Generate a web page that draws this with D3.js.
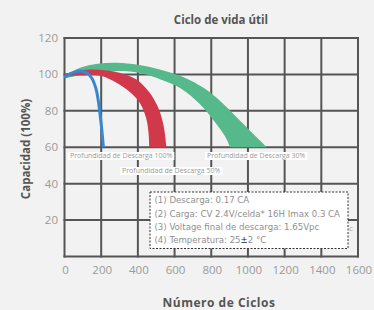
<!DOCTYPE html>
<html>
<head>
<meta charset="utf-8">
<script src="https://cdn.jsdelivr.net/npm/d3@7"></script>
<style>
  html, body { margin: 0; padding: 0; background: #f1f2f1; }
  svg { display: block; font-family: "Open Sans", sans-serif; }
</style>
</head>
<body>
<div id="chart"></div>
<script>
// ciclos / capacidad
const xTicks = [0, 200, 400, 600, 800, 1000, 1200, 1400, 1600];
const yTicks = [20, 40, 60, 80, 100, 120];

// Profundidad de Descarga 100% (linea)
const blueCycles = [0, 30, 60, 94, 125, 150, 172, 185, 195, 204, 212];
const blueCap = [98.3, 100.3, 101.4, 101.8, 100.6, 97.8, 92, 85, 77, 69, 60];

// Profundidad de Descarga 50% (banda)
const redUpCycles = [0, 60, 140, 220, 300, 390, 460, 510, 540, 556];
const redUpCap = [100.3, 101.8, 102.7, 102.3, 100.9, 97.3, 90.5, 82, 72, 60];
const redLoCycles = [0, 80, 190, 250, 340, 410, 445, 458, 462];
const redLoCap = [98.5, 99.5, 99.4, 97.2, 91.7, 84.5, 76, 68, 60];

// Profundidad de Descarga 30% (banda)
const greenUpCycles = [0, 85, 180, 285, 400, 520, 650, 760, 850, 960, 1050, 1103];
const greenUpCap = [99.3, 103.6, 105.8, 106.4, 105.3, 102.7, 98.5, 92.5, 85.3, 74.3, 65.2, 60];
const greenLoCycles = [0, 150, 280, 380, 450, 520, 630, 740, 830, 875, 903];
const greenLoCap = [97.8, 100.6, 101.8, 101.3, 99.8, 97.4, 92.6, 83.5, 72.5, 66, 60];

const notes = [
  "(1) Descarga: 0.17 CA",
  "(2) Carga: CV 2.4V/celda* 16H Imax 0.3 CA",
  "(3) Voltage final de descarga: 1.65Vpc",
  "(4) Temperatura: 25±2 °C"
];

const width = 374, height = 310;

const svg = d3.select("#chart").append("svg")
  .attr("width", width)
  .attr("height", height);

svg.append("rect").attr("width", width).attr("height", height).attr("fill", "#f1f2f1");

const x = d3.scaleLinear().domain([0, 1600]).range([64.5, 358]);
const y = d3.scaleLinear().domain([0, 120]).range([256.5, 38]);

// rejilla
const grid = svg.append("g").attr("stroke", "#555").attr("stroke-width", 2);
grid.selectAll(".vx").data(xTicks).enter().append("line")
  .attr("x1", d => x(d)).attr("x2", d => x(d))
  .attr("y1", y(0) + 1).attr("y2", y(120) - 1);
grid.selectAll(".hy").data([0].concat(yTicks)).enter().append("line")
  .attr("x1", x(0) - 1).attr("x2", x(1600) + 1)
  .attr("y1", d => y(d)).attr("y2", d => y(d));

// etiquetas de ejes
svg.append("g").selectAll("text").data(yTicks).enter().append("text")
  .attr("x", 58).attr("y", d => y(d) + 4)
  .attr("text-anchor", "end")
  .attr("font-size", 11.5).attr("fill", "#9a9a9a")
  .text(d => d);

svg.append("g").selectAll("text").data(xTicks).enter().append("text")
  .attr("x", d => x(d) + 1).attr("y", 274)
  .attr("text-anchor", "middle")
  .attr("font-size", 11.5).attr("fill", "#9a9a9a")
  .text(d => d);

const pts = (xs, ys) => xs.map((c, i) => [x(c), y(ys[i])]);
const lineGen = d3.line().curve(d3.curveCatmullRom.alpha(0.5));

function band(upX, upY, loX, loY) {
  const up = pts(upX, upY);
  const lo = pts(loX, loY).reverse();
  return lineGen(up) + "L" + lineGen(lo).slice(1) + "Z";
}

svg.append("path")
  .attr("d", band(greenUpCycles, greenUpCap, greenLoCycles, greenLoCap))
  .attr("fill", "#56b98b");

svg.append("path")
  .attr("d", band(redUpCycles, redUpCap, redLoCycles, redLoCap))
  .attr("fill", "#d1394a");

svg.append("path")
  .attr("d", lineGen(pts(blueCycles, blueCap)))
  .attr("fill", "none")
  .attr("stroke", "#3589d2")
  .attr("stroke-width", 3);

// etiquetas de curvas
const tags = [
  { t: "Profundidad de Descarga 100%", cx: 70, cy: 156 },
  { t: "Profundidad de Descarga 50%", cx: 122, cy: 171 },
  { t: "Profundidad de Descarga 30%", cx: 207, cy: 156 }
];
tags.forEach(d => {
  const g = svg.append("g");
  const r = g.append("rect").attr("fill", "#fff");
  const tx = g.append("text")
    .attr("x", d.cx).attr("y", d.cy + 2.4)
    .attr("font-size", 7).attr("fill", "#999")
    .text(d.t);
  const w = tx.node().getComputedTextLength();
  r.attr("x", d.cx - 2).attr("y", d.cy - 4).attr("width", w + 4).attr("height", 8);
});

// nota de condiciones
svg.append("text")
  .attr("x", 349).attr("y", 231)
  .attr("font-size", 8).attr("fill", "#aaa")
  .text("c");

svg.append("rect")
  .attr("x", 150).attr("y", 192)
  .attr("width", 198).attr("height", 56.5)
  .attr("fill", "#fff")
  .attr("stroke", "#333")
  .attr("stroke-width", 1)
  .attr("stroke-dasharray", "2,1.5");

const nt = svg.append("g")
  .attr("font-family", "'DejaVu Sans', sans-serif")
  .attr("font-size", 8.6).attr("fill", "#8f8f8f");
notes.forEach((n, i) => {
  const t = nt.append("text").attr("x", 154.5).attr("y", 203.3 + i * 13.3);
  if (n.includes("±")) {
    const parts = n.split("±");
    t.append("tspan").text(parts[0]);
    t.append("tspan").attr("fill", "#222").text("±");
    t.append("tspan").text(parts[1]);
  } else {
    t.text(n);
  }
});

// titulos
svg.append("text")
  .attr("x", 221).attr("y", 24)
  .attr("text-anchor", "middle")
  .attr("font-size", 11.5).attr("font-weight", "bold").attr("fill", "#555")
  .text("Ciclo de vida útil");

svg.append("text")
  .attr("x", 219).attr("y", 307)
  .attr("text-anchor", "middle")
  .attr("font-size", 12).attr("letter-spacing", 0.5)
  .attr("font-weight", "bold").attr("fill", "#555")
  .text("Número de Ciclos");

svg.append("text")
  .attr("transform", "translate(30,149) rotate(-90)")
  .attr("text-anchor", "middle")
  .attr("font-size", 11.5).attr("font-weight", "bold").attr("fill", "#555")
  .text("Capacidad (100%)");
</script>
</body>
</html>
